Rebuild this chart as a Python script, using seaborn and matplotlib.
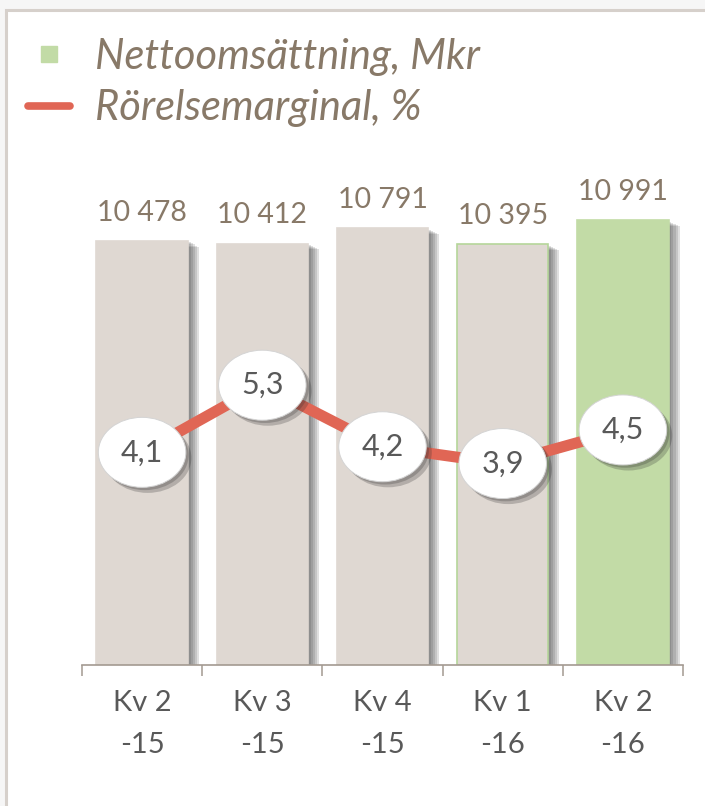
import numpy as np
import matplotlib
matplotlib.use("Agg")
import matplotlib.pyplot as plt
import matplotlib.patheffects as pe
from matplotlib.lines import Line2D
from matplotlib.patches import Rectangle
from matplotlib.path import Path
from matplotlib.markers import MarkerStyle
from matplotlib.transforms import Affine2D
import seaborn as sns

# data
quarters = ["Kv 2\n-15", "Kv 3\n-15", "Kv 4\n-15", "Kv 1\n-16", "Kv 2\n-16"]
sales = [10478, 10412, 10791, 10395, 10991]          # Nettoomsättning, Mkr
margin = [4.1, 5.3, 4.2, 3.9, 4.5]                   # Rörelsemarginal, %
bar_colors = ["#dfd8d2", "#dfd8d2", "#dfd8d2", "#dfd8d2", "#c2dba6"]
bar_edges = ["#dfd8d2", "#dfd8d2", "#dfd8d2", "#b5d69a", "#c2dba6"]

GREEN = "#c2dba6"
RED = "#e06655"
BROWN = "#887968"
GREY = "#595959"

sns.set_theme(style="white")
plt.rcParams["font.family"] = ["Lato", "DejaVu Sans"]

W, H = 705, 806
fig = plt.figure(figsize=(W / 100, H / 100), dpi=100, facecolor="#f6f6f6")

# outer frame
fig.patches.append(Rectangle((6 / W, -0.1), 1.2, 1.1 - 10 / H, transform=fig.transFigure,
                             facecolor="white", edgecolor="#d6d0cb", lw=2.2, zorder=-10))

ax = fig.add_axes([82 / W, 1 - 665 / H, 601 / W, 535 / H])
ax.set_facecolor("none")

sns.barplot(x=quarters, y=sales, color=bar_colors[0], width=0.76, saturation=1, ax=ax)

shadow = [pe.SimplePatchShadow(offset=(o, -o * 0.5), shadow_rgbFace="#404040", alpha=0.16)
          for o in (8, 6.5, 5, 3.5, 2)] + [pe.Normal()]
for bar, fc, ec in zip(ax.patches, bar_colors, bar_edges):
    bar.set_facecolor(fc)
    bar.set_edgecolor(ec)
    bar.set_linewidth(1.2)
    bar.set_path_effects(shadow)

labels = [f"{v:,}".replace(",", " ") for v in sales]
ax.bar_label(ax.containers[0], labels=labels, padding=11, fontsize=20.5, color=BROWN)

ax.set_xlim(-0.5, 4.5)
ax.set_ylim(0, 13221)
ax.set_yticks([])
ax.set_xlabel("")
ax.set_ylabel("")
for s in ("top", "left", "right"):
    ax.spines[s].set_visible(False)
ax.spines["bottom"].set_color("#a39a91")
ax.spines["bottom"].set_linewidth(1.2)
ax.set_xticks(range(len(quarters)))
ax.set_xticklabels(quarters, fontsize=21, color=GREY, linespacing=1.75)
ax.set_xticks(np.arange(-0.5, len(quarters), 1), minor=True)
ax.tick_params(axis="x", which="major", length=0, pad=18)
ax.tick_params(axis="x", which="minor", length=8, width=1.1, color="#a39a91", bottom=True)

# margin line on secondary axis
ax2 = ax.twinx()
ax2.set_ylim(0.3, 9.86)
ax2.set_yticks([])
for s in ax2.spines.values():
    s.set_visible(False)
xs = np.arange(len(margin))
sns.lineplot(x=xs, y=margin, color=RED, lw=8, ax=ax2, zorder=2)

ell = Path.unit_circle().transformed(Affine2D().scale(1.0, 0.8))
ax2.scatter(xs, margin, marker=MarkerStyle(ell), s=63 ** 2, color="white",
            edgecolor="#d4d4d4", linewidth=0.7, zorder=3,
            path_effects=[pe.SimplePatchShadow(offset=(4, -4), shadow_rgbFace="#303030", alpha=0.25),
                          pe.SimplePatchShadow(offset=(2, -2), shadow_rgbFace="#303030", alpha=0.25),
                          pe.Normal()])
for x, v in zip(xs, margin):
    ax2.text(x, v, f"{v:.1f}".replace(".", ","), ha="center", va="center",
             fontsize=22, color=GREY, zorder=4)

# legend
handles = [Line2D([], [], marker="s", ls="none", markerfacecolor=GREEN, markeredgecolor=GREEN,
                  markersize=11),
           Line2D([], [], color=RED, lw=5.5)]
fig.legend(handles, ["Nettoomsättning, Mkr", "Rörelsemarginal, %"], loc="upper left",
           bbox_to_anchor=(28 / W, 1 - 38 / H), frameon=False,
           prop={"style": "italic", "size": 30}, labelcolor=BROWN, handlelength=1.0,
           handletextpad=0.6, labelspacing=0.32, borderpad=0, borderaxespad=0)

fig.savefig("out.png", dpi=100, facecolor=fig.get_facecolor())
